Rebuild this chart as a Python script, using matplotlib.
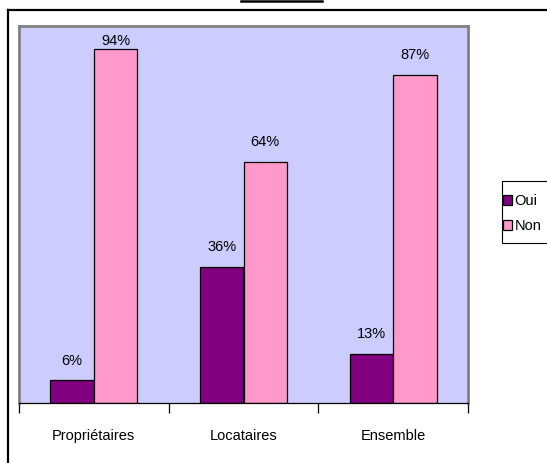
import matplotlib.pyplot as plt
import numpy as np
from matplotlib.lines import Line2D
from matplotlib.patches import Rectangle

plt.rcParams['font.family'] = ['Liberation Sans', 'DejaVu Sans']

# données du graphique
categories = ['Propriétaires', 'Locataires', 'Ensemble']
oui = [6, 36, 13]
non = [94, 64, 87]

W, H = 547, 463
fig = plt.figure(figsize=(W / 100, H / 100), dpi=100)

# cadre extérieur (coupé à droite et en bas, comme dans l'original)
fig.add_artist(Line2D([8 / W, 1], [1 - 9.5 / H, 1 - 9.5 / H], color='black', lw=1.6, transform=fig.transFigure))
fig.add_artist(Line2D([8 / W, 8 / W], [0, 1 - 9.5 / H], color='black', lw=1.6, transform=fig.transFigure))
# petit trait du titre en haut
fig.add_artist(Line2D([241 / W, 322 / W], [1 - 0.8 / H, 1 - 0.8 / H], color='black', lw=1.8, transform=fig.transFigure))

ax = fig.add_axes([19 / W, 1 - 403 / H, (468 - 19) / W, (403 - 26) / H])
ax.set_facecolor('#CCCCFF')

x = np.arange(len(categories))
w = 0.29
b1 = ax.bar(x - w / 2, oui, w, color='#800080', edgecolor='black', linewidth=0.9, label='Oui')
b2 = ax.bar(x + w / 2, non, w, color='#FF99CC', edgecolor='black', linewidth=0.9, label='Non')

# étiquettes au-dessus des barres (gardées dans la zone de traçage, comme Excel)
for bars, vals in [(b1, oui), (b2, non)]:
    for r, v in zip(bars, vals):
        ax.text(r.get_x() + r.get_width() / 2, min(v + 4.2, 95), f'{v}%',
                ha='center', va='baseline', fontsize=10.5)

ax.set_xlim(-0.5, 2.5)
ax.set_ylim(0, 100)
ax.set_yticks([])
ax.set_xticks(x)
ax.set_xticklabels(categories, fontsize=10.5)
ax.tick_params(axis='x', which='major', length=0, pad=19)
ax.set_xticks([-0.5, 0.5, 1.5, 2.5], minor=True)
ax.tick_params(axis='x', which='minor', length=7, width=0.9, color='black', direction='out')

for s in ['top', 'right', 'left']:
    ax.spines[s].set_color('#808080')
    ax.spines[s].set_linewidth(2)
ax.spines['bottom'].set_color('black')
ax.spines['bottom'].set_linewidth(0.9)

# cadre de la légende dessiné à part (il sort de l'image à droite)
fig.add_artist(Rectangle((502 / W, 1 - 243 / H), 50 / W, 62 / H, transform=fig.transFigure,
                         facecolor='white', edgecolor='black', linewidth=0.8))
leg = fig.legend(handles=[b1, b2], loc='upper left', bbox_to_anchor=(503 / W, 1 - 194 / H),
                 fontsize=10.5, frameon=False,
                 handlelength=0.65, handleheight=0.65, handletextpad=0.15,
                 borderpad=0, labelspacing=0.75, borderaxespad=0)

fig.savefig('out.png', dpi=100)
